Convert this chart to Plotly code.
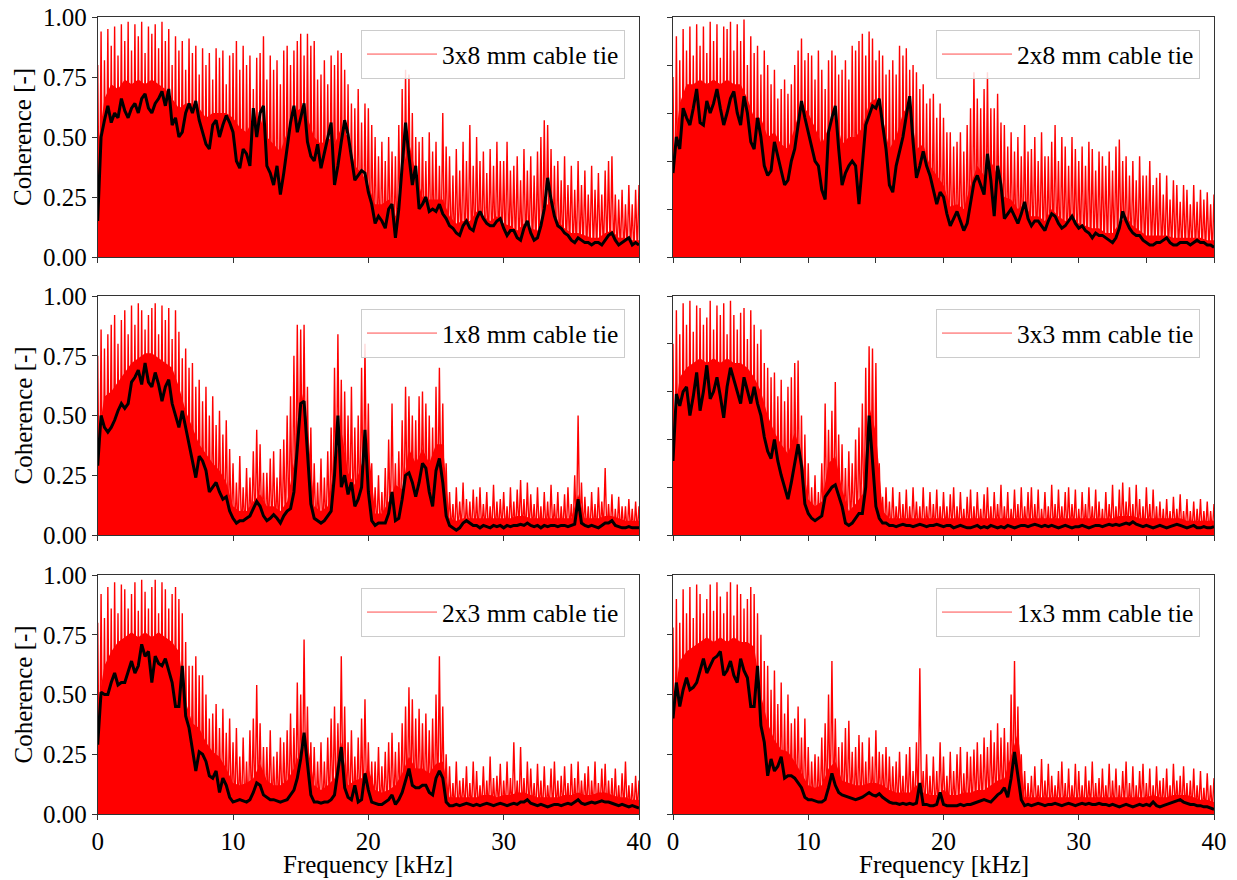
# Coherence of the six cable tie set-ups, raw (red) and smoothed (black)

import numpy as np
import plotly.graph_objects as go

#----------------------------------------------------------
# Data
# frequency grid in kHz, 0.25 kHz step; red spikes alternate hi / lo
# core = top of the solid red band, read every 0.5 kHz
#----------------------------------------------------------

step = 0.25
freq = np.arange(0, 40 + step / 2, step)
core_freq = np.arange(0, 40.25, 0.5)

labels = ["3x8 mm cable tie", "2x8 mm cable tie", "1x8 mm cable tie",
          "3x3 mm cable tie", "2x3 mm cable tie", "1x3 mm cable tie"]

# ---- 3x8 ----
black_3x8 = [
    0.15, 0.50, 0.57, 0.63, 0.56, 0.60, 0.58, 0.66,
    0.61, 0.58, 0.62, 0.64, 0.60, 0.66, 0.68, 0.62,
    0.60, 0.64, 0.66, 0.69, 0.63, 0.70, 0.55, 0.58,
    0.50, 0.52, 0.60, 0.64, 0.60, 0.65, 0.57, 0.52,
    0.47, 0.45, 0.55, 0.57, 0.50, 0.55, 0.59, 0.56,
    0.52, 0.40, 0.37, 0.45, 0.43, 0.38, 0.62, 0.50,
    0.60, 0.63, 0.38, 0.35, 0.30, 0.38, 0.26, 0.35,
    0.45, 0.56, 0.63, 0.52, 0.58, 0.64, 0.48, 0.42,
    0.40, 0.47, 0.37, 0.43, 0.50, 0.56, 0.30, 0.38,
    0.48, 0.57, 0.51, 0.42, 0.32, 0.34, 0.36, 0.35,
    0.27, 0.22, 0.14, 0.17, 0.15, 0.12, 0.20, 0.22,
    0.08, 0.20, 0.38, 0.56, 0.42, 0.30, 0.38, 0.20,
    0.22, 0.25, 0.19, 0.20, 0.19, 0.22, 0.18, 0.16,
    0.13, 0.12, 0.10, 0.09, 0.13, 0.15, 0.12, 0.11,
    0.16, 0.19, 0.16, 0.14, 0.13, 0.13, 0.15, 0.16,
    0.12, 0.09, 0.11, 0.11, 0.08, 0.07, 0.12, 0.15,
    0.10, 0.07, 0.08, 0.13, 0.20, 0.33, 0.24, 0.17,
    0.13, 0.12, 0.10, 0.09, 0.07, 0.06, 0.08, 0.07,
    0.06, 0.06, 0.05, 0.06, 0.06, 0.05, 0.07, 0.09,
    0.10, 0.07, 0.05, 0.06, 0.07, 0.08, 0.05, 0.06,
    0.05]
hi_3x8 = [
    0.80, 0.94, 0.82, 0.95, 0.88, 0.96, 0.84, 0.97,
    0.90, 0.98, 0.86, 0.97, 0.92, 0.98, 0.85, 0.96,
    0.93, 0.97, 0.87, 0.98, 0.90, 0.95, 0.80, 0.92,
    0.86, 0.90, 0.78, 0.91, 0.85, 0.88, 0.76, 0.87,
    0.80, 0.85, 0.74, 0.87, 0.83, 0.86, 0.72, 0.84,
    0.85, 0.90, 0.78, 0.88, 0.80, 0.84, 0.70, 0.83,
    0.85, 0.92, 0.74, 0.84, 0.78, 0.82, 0.72, 0.86,
    0.88, 0.80, 0.86, 0.90, 0.93, 0.84, 0.93, 0.88,
    0.90, 0.74, 0.76, 0.82, 0.72, 0.84, 0.80, 0.86,
    0.85, 0.78, 0.72, 0.64, 0.62, 0.70, 0.56, 0.64,
    0.62, 0.55, 0.50, 0.42, 0.48, 0.40, 0.50, 0.44,
    0.42, 0.55, 0.70, 0.78, 0.76, 0.60, 0.50, 0.48,
    0.50, 0.40, 0.52, 0.44, 0.48, 0.38, 0.60, 0.46,
    0.42, 0.34, 0.45, 0.36, 0.48, 0.40, 0.55, 0.38,
    0.50, 0.40, 0.44, 0.35, 0.45, 0.38, 0.48, 0.40,
    0.40, 0.48, 0.36, 0.38, 0.42, 0.32, 0.45, 0.36,
    0.42, 0.34, 0.44, 0.50, 0.57, 0.55, 0.45, 0.38,
    0.40, 0.32, 0.42, 0.30, 0.38, 0.28, 0.40, 0.30,
    0.36, 0.26, 0.38, 0.28, 0.35, 0.26, 0.36, 0.40,
    0.42, 0.26, 0.24, 0.28, 0.22, 0.30, 0.22, 0.28,
    0.30]
lo_3x8 = [
    0.05, 0.02, 0.10, 0.00, 0.08, 0.03, 0.12, 0.01,
    0.06, 0.00, 0.09, 0.04, 0.11, 0.02, 0.07, 0.00,
    0.10, 0.03, 0.08, 0.01, 0.12, 0.04, 0.06, 0.00,
    0.09, 0.02, 0.11, 0.05, 0.03, 0.08, 0.00, 0.06,
    0.04, 0.10, 0.01, 0.07, 0.03, 0.09, 0.00, 0.05,
    0.08, 0.02, 0.06, 0.00, 0.09, 0.03, 0.07, 0.01,
    0.05, 0.08, 0.00, 0.04, 0.02, 0.06, 0.00, 0.03,
    0.07, 0.01, 0.09, 0.04, 0.06, 0.00, 0.08, 0.02,
    0.03, 0.06, 0.00, 0.05, 0.02, 0.07, 0.00, 0.04,
    0.06, 0.02, 0.04, 0.00, 0.03, 0.05, 0.01, 0.02,
    0.01, 0.03, 0.00, 0.02, 0.01, 0.00, 0.02, 0.01,
    0.00, 0.02, 0.04, 0.06, 0.03, 0.01, 0.02, 0.00,
    0.02, 0.01, 0.00, 0.02, 0.01, 0.03, 0.00, 0.01,
    0.01, 0.00, 0.02, 0.01, 0.00, 0.02, 0.01, 0.00,
    0.02, 0.01, 0.00, 0.01, 0.02, 0.00, 0.01, 0.02,
    0.00, 0.01, 0.02, 0.00, 0.01, 0.00, 0.02, 0.01,
    0.00, 0.01, 0.00, 0.02, 0.03, 0.02, 0.01, 0.00,
    0.01, 0.00, 0.01, 0.02, 0.00, 0.01, 0.00, 0.01,
    0.00, 0.01, 0.00, 0.01, 0.02, 0.00, 0.01, 0.00,
    0.01, 0.00, 0.01, 0.00, 0.01, 0.02, 0.00, 0.01]
core_3x8 = [
    0.45, 0.66, 0.72, 0.70, 0.74, 0.72, 0.74, 0.72, 0.74, 0.72,
    0.70, 0.66, 0.62, 0.64, 0.64, 0.62, 0.58, 0.60, 0.60, 0.60,
    0.58, 0.54, 0.52, 0.58, 0.58, 0.50, 0.47, 0.44, 0.52, 0.60,
    0.62, 0.58, 0.50, 0.47, 0.50, 0.47, 0.54, 0.50, 0.38, 0.35,
    0.30, 0.22, 0.22, 0.24, 0.17, 0.35, 0.48, 0.35, 0.25, 0.24,
    0.24, 0.24, 0.17, 0.14, 0.15, 0.15, 0.19, 0.17, 0.15, 0.17,
    0.14, 0.13, 0.11, 0.14, 0.12, 0.11, 0.20, 0.24, 0.15, 0.12,
    0.10, 0.10, 0.09, 0.08, 0.08, 0.10, 0.11, 0.08, 0.08, 0.07,
    0.07]

# ---- 2x8 ----
black_2x8 = [
    0.35, 0.50, 0.45, 0.62, 0.58, 0.55, 0.62, 0.70,
    0.56, 0.55, 0.65, 0.60, 0.64, 0.70, 0.62, 0.55,
    0.60, 0.66, 0.69, 0.60, 0.55, 0.67, 0.60, 0.48,
    0.45, 0.58, 0.50, 0.38, 0.34, 0.36, 0.48, 0.42,
    0.37, 0.30, 0.32, 0.40, 0.45, 0.55, 0.65, 0.58,
    0.52, 0.47, 0.40, 0.38, 0.28, 0.24, 0.52, 0.58,
    0.63, 0.45, 0.30, 0.35, 0.38, 0.40, 0.38, 0.22,
    0.38, 0.55, 0.59, 0.63, 0.62, 0.66, 0.55, 0.45,
    0.30, 0.27, 0.38, 0.44, 0.50, 0.59, 0.67, 0.48,
    0.33, 0.38, 0.44, 0.38, 0.34, 0.28, 0.22, 0.27,
    0.25, 0.18, 0.13, 0.16, 0.19, 0.15, 0.11, 0.14,
    0.22, 0.31, 0.34, 0.30, 0.26, 0.43, 0.32, 0.17,
    0.38, 0.30, 0.16, 0.18, 0.20, 0.17, 0.14, 0.18,
    0.23, 0.16, 0.13, 0.15, 0.15, 0.13, 0.11, 0.15,
    0.18, 0.17, 0.14, 0.12, 0.13, 0.15, 0.17, 0.14,
    0.12, 0.13, 0.11, 0.10, 0.08, 0.10, 0.09, 0.09,
    0.08, 0.07, 0.06, 0.08, 0.12, 0.19, 0.15, 0.12,
    0.10, 0.09, 0.09, 0.07, 0.06, 0.05, 0.05, 0.06,
    0.06, 0.07, 0.08, 0.06, 0.05, 0.05, 0.06, 0.06,
    0.06, 0.05, 0.06, 0.07, 0.06, 0.06, 0.05, 0.05,
    0.04]
hi_2x8 = [
    0.75, 0.92, 0.82, 0.95, 0.86, 0.96, 0.84, 0.97,
    0.88, 0.96, 0.85, 0.98, 0.90, 0.97, 0.83, 0.96,
    0.95, 0.98, 0.86, 0.97, 0.90, 0.99, 0.80, 0.92,
    0.85, 0.88, 0.76, 0.86, 0.80, 0.72, 0.78, 0.66,
    0.70, 0.74, 0.68, 0.72, 0.80, 0.86, 0.91, 0.82,
    0.85, 0.84, 0.74, 0.86, 0.78, 0.70, 0.82, 0.86,
    0.84, 0.76, 0.78, 0.82, 0.74, 0.88, 0.86, 0.90,
    0.93, 0.84, 0.94, 0.91, 0.82, 0.86, 0.84, 0.76,
    0.78, 0.82, 0.76, 0.88, 0.84, 0.87, 0.78, 0.80,
    0.77, 0.70, 0.72, 0.64, 0.66, 0.68, 0.58, 0.64,
    0.58, 0.52, 0.52, 0.46, 0.48, 0.52, 0.44, 0.55,
    0.62, 0.77, 0.66, 0.62, 0.70, 0.77, 0.62, 0.62,
    0.68, 0.56, 0.55, 0.46, 0.52, 0.44, 0.50, 0.42,
    0.55, 0.44, 0.45, 0.50, 0.40, 0.52, 0.42, 0.42,
    0.48, 0.55, 0.40, 0.50, 0.46, 0.38, 0.50, 0.45,
    0.40, 0.46, 0.38, 0.48, 0.45, 0.36, 0.44, 0.42,
    0.38, 0.44, 0.36, 0.46, 0.49, 0.40, 0.42, 0.34,
    0.40, 0.32, 0.42, 0.34, 0.34, 0.40, 0.30, 0.33,
    0.35, 0.26, 0.34, 0.24, 0.32, 0.30, 0.23, 0.30,
    0.28, 0.22, 0.30, 0.23, 0.28, 0.24, 0.27, 0.22,
    0.26]
lo_2x8 = [
    0.03, 0.08, 0.00, 0.11, 0.04, 0.07, 0.01, 0.10,
    0.02, 0.09, 0.05, 0.00, 0.12, 0.03, 0.08, 0.01,
    0.07, 0.00, 0.10, 0.04, 0.09, 0.02, 0.11, 0.03,
    0.06, 0.01, 0.08, 0.03, 0.00, 0.07, 0.02, 0.05,
    0.00, 0.06, 0.03, 0.09, 0.01, 0.08, 0.04, 0.10,
    0.02, 0.07, 0.00, 0.05, 0.03, 0.00, 0.06, 0.09,
    0.04, 0.01, 0.05, 0.00, 0.03, 0.06, 0.02, 0.00,
    0.05, 0.08, 0.03, 0.10, 0.06, 0.02, 0.07, 0.01,
    0.00, 0.03, 0.06, 0.02, 0.07, 0.04, 0.08, 0.03,
    0.01, 0.04, 0.06, 0.02, 0.00, 0.03, 0.01, 0.02,
    0.00, 0.02, 0.01, 0.00, 0.02, 0.01, 0.00, 0.01,
    0.02, 0.04, 0.05, 0.03, 0.02, 0.04, 0.01, 0.00,
    0.03, 0.01, 0.00, 0.02, 0.01, 0.00, 0.01, 0.02,
    0.00, 0.01, 0.02, 0.00, 0.01, 0.02, 0.00, 0.01,
    0.01, 0.02, 0.00, 0.01, 0.00, 0.02, 0.01, 0.00,
    0.02, 0.00, 0.01, 0.00, 0.01, 0.02, 0.00, 0.01,
    0.00, 0.01, 0.00, 0.01, 0.02, 0.01, 0.00, 0.01,
    0.01, 0.00, 0.02, 0.00, 0.01, 0.00, 0.01, 0.00,
    0.00, 0.01, 0.00, 0.02, 0.00, 0.01, 0.00, 0.01,
    0.01, 0.00, 0.01, 0.00, 0.01, 0.00, 0.01, 0.00]
core_2x8 = [
    0.40, 0.64, 0.72, 0.72, 0.74, 0.72, 0.74, 0.72, 0.74, 0.72,
    0.72, 0.66, 0.58, 0.58, 0.50, 0.52, 0.47, 0.45, 0.54, 0.64,
    0.60, 0.54, 0.47, 0.54, 0.60, 0.47, 0.50, 0.50, 0.54, 0.64,
    0.66, 0.58, 0.45, 0.50, 0.60, 0.64, 0.45, 0.47, 0.38, 0.34,
    0.30, 0.21, 0.22, 0.20, 0.30, 0.38, 0.34, 0.40, 0.34, 0.25,
    0.24, 0.20, 0.22, 0.17, 0.17, 0.15, 0.20, 0.17, 0.15, 0.17,
    0.14, 0.13, 0.12, 0.12, 0.10, 0.10, 0.14, 0.17, 0.13, 0.11,
    0.09, 0.09, 0.09, 0.09, 0.08, 0.08, 0.08, 0.08, 0.08, 0.07,
    0.07]

# ---- 1x8 ----
black_1x8 = [
    0.29, 0.50, 0.45, 0.43, 0.45, 0.48, 0.52, 0.55,
    0.53, 0.55, 0.64, 0.66, 0.69, 0.63, 0.72, 0.64,
    0.62, 0.68, 0.63, 0.56, 0.62, 0.65, 0.55, 0.50,
    0.45, 0.52, 0.45, 0.38, 0.30, 0.24, 0.33, 0.31,
    0.27, 0.18, 0.20, 0.22, 0.18, 0.15, 0.16, 0.10,
    0.07, 0.05, 0.06, 0.06, 0.07, 0.08, 0.11, 0.14,
    0.12, 0.08, 0.06, 0.07, 0.085, 0.07, 0.05, 0.08,
    0.10, 0.11, 0.18, 0.35, 0.55, 0.56, 0.35, 0.13,
    0.07, 0.06, 0.05, 0.06, 0.08, 0.10, 0.25, 0.50,
    0.20, 0.25, 0.17, 0.22, 0.12, 0.15, 0.20, 0.44,
    0.18, 0.06, 0.04, 0.05, 0.05, 0.05, 0.09, 0.18,
    0.06, 0.07, 0.15, 0.25, 0.26, 0.22, 0.16, 0.22,
    0.30, 0.28, 0.18, 0.12, 0.27, 0.32, 0.22, 0.08,
    0.04, 0.03, 0.02, 0.03, 0.05, 0.06, 0.05, 0.04,
    0.04, 0.03, 0.04, 0.035, 0.03, 0.04, 0.035, 0.04,
    0.03, 0.04, 0.035, 0.04, 0.04, 0.045, 0.04, 0.05,
    0.04, 0.035, 0.04, 0.03, 0.04, 0.035, 0.04, 0.04,
    0.035, 0.04, 0.04, 0.035, 0.04, 0.045, 0.15, 0.05,
    0.04, 0.035, 0.04, 0.035, 0.03, 0.04, 0.05, 0.05,
    0.06, 0.04, 0.035, 0.03, 0.03, 0.035, 0.03, 0.03,
    0.03]
hi_1x8 = [
    0.75, 0.86, 0.78, 0.84, 0.88, 0.92, 0.80, 0.90,
    0.94, 0.84, 0.96, 0.88, 0.97, 0.94, 0.86, 0.92,
    0.95, 0.97, 0.84, 0.96, 0.90, 0.95, 0.82, 0.94,
    0.85, 0.74, 0.78, 0.70, 0.72, 0.62, 0.65, 0.56,
    0.62, 0.50, 0.58, 0.46, 0.52, 0.42, 0.48, 0.36,
    0.30, 0.22, 0.33, 0.20, 0.28, 0.24, 0.35, 0.44,
    0.38, 0.26, 0.26, 0.32, 0.35, 0.24, 0.36, 0.40,
    0.50, 0.58, 0.75, 0.88, 0.86, 0.88, 0.62, 0.45,
    0.30, 0.22, 0.32, 0.24, 0.35, 0.45, 0.70, 0.84,
    0.65, 0.60, 0.50, 0.62, 0.45, 0.50, 0.70, 0.80,
    0.55, 0.30, 0.20, 0.25, 0.18, 0.28, 0.40, 0.55,
    0.30, 0.35, 0.48, 0.62, 0.58, 0.50, 0.48, 0.58,
    0.60, 0.55, 0.50, 0.45, 0.62, 0.70, 0.55, 0.30,
    0.18, 0.13, 0.20, 0.14, 0.22, 0.15, 0.14, 0.19,
    0.16, 0.20, 0.13, 0.18, 0.12, 0.21, 0.14, 0.15,
    0.18, 0.12, 0.20, 0.14, 0.19, 0.23, 0.15, 0.22,
    0.17, 0.13, 0.20, 0.12, 0.18, 0.14, 0.21, 0.13,
    0.18, 0.12, 0.17, 0.20, 0.13, 0.25, 0.50, 0.22,
    0.16, 0.12, 0.18, 0.13, 0.20, 0.14, 0.28, 0.13,
    0.17, 0.11, 0.16, 0.12, 0.12, 0.15, 0.11, 0.14,
    0.12]
lo_1x8 = [
    0.02, 0.08, 0.00, 0.10, 0.04, 0.07, 0.01, 0.09,
    0.03, 0.11, 0.05, 0.00, 0.08, 0.02, 0.10, 0.04,
    0.07, 0.01, 0.09, 0.03, 0.06, 0.00, 0.08, 0.02,
    0.05, 0.00, 0.04, 0.02, 0.00, 0.03, 0.01, 0.00,
    0.02, 0.00, 0.01, 0.03, 0.00, 0.01, 0.00, 0.01,
    0.00, 0.01, 0.00, 0.01, 0.00, 0.02, 0.01, 0.02,
    0.01, 0.00, 0.01, 0.00, 0.01, 0.00, 0.00, 0.01,
    0.02, 0.03, 0.06, 0.15, 0.20, 0.12, 0.04, 0.01,
    0.00, 0.01, 0.00, 0.01, 0.02, 0.03, 0.08, 0.15,
    0.06, 0.08, 0.05, 0.06, 0.03, 0.04, 0.06, 0.10,
    0.03, 0.00, 0.01, 0.00, 0.01, 0.00, 0.02, 0.04,
    0.01, 0.02, 0.04, 0.07, 0.08, 0.05, 0.04, 0.06,
    0.08, 0.06, 0.04, 0.03, 0.07, 0.09, 0.03, 0.01,
    0.01, 0.00, 0.01, 0.02, 0.00, 0.01, 0.00, 0.01,
    0.00, 0.01, 0.02, 0.00, 0.01, 0.00, 0.01, 0.02,
    0.01, 0.00, 0.01, 0.00, 0.02, 0.01, 0.00, 0.01,
    0.02, 0.00, 0.01, 0.00, 0.01, 0.00, 0.02, 0.01,
    0.00, 0.01, 0.00, 0.02, 0.01, 0.00, 0.03, 0.01,
    0.01, 0.00, 0.01, 0.00, 0.01, 0.02, 0.00, 0.01,
    0.00, 0.01, 0.00, 0.01, 0.00, 0.01, 0.00, 0.01]
core_1x8 = [
    0.40, 0.58, 0.60, 0.64, 0.68, 0.72, 0.74, 0.76, 0.76, 0.74,
    0.72, 0.70, 0.62, 0.52, 0.45, 0.38, 0.34, 0.30, 0.27, 0.22,
    0.12, 0.10, 0.10, 0.14, 0.17, 0.12, 0.12, 0.10, 0.14, 0.30,
    0.62, 0.47, 0.12, 0.10, 0.12, 0.30, 0.44, 0.26, 0.21, 0.30,
    0.38, 0.09, 0.09, 0.14, 0.21, 0.19, 0.36, 0.30, 0.36, 0.30,
    0.38, 0.38, 0.07, 0.06, 0.07, 0.07, 0.07, 0.07, 0.07, 0.07,
    0.07, 0.07, 0.08, 0.08, 0.07, 0.07, 0.07, 0.07, 0.07, 0.07,
    0.07, 0.17, 0.07, 0.07, 0.07, 0.08, 0.08, 0.07, 0.06, 0.06,
    0.06]

# ---- 3x3 ----
black_3x3 = [
    0.31, 0.59, 0.54, 0.60, 0.62, 0.50, 0.58, 0.68,
    0.52, 0.60, 0.71, 0.57, 0.60, 0.66, 0.58, 0.49,
    0.62, 0.70, 0.65, 0.60, 0.55, 0.66, 0.60, 0.55,
    0.62, 0.55, 0.50, 0.41, 0.35, 0.32, 0.40, 0.31,
    0.25, 0.20, 0.15, 0.22, 0.30, 0.38, 0.29, 0.13,
    0.09, 0.07, 0.06, 0.07, 0.08, 0.16, 0.18, 0.20,
    0.21, 0.16, 0.12, 0.05, 0.04, 0.05, 0.07, 0.09,
    0.09, 0.20, 0.50, 0.32, 0.12, 0.07, 0.05, 0.05,
    0.04, 0.04, 0.035, 0.04, 0.045, 0.04, 0.04, 0.035,
    0.04, 0.045, 0.04, 0.035, 0.04, 0.04, 0.045, 0.04,
    0.035, 0.04, 0.04, 0.03, 0.035, 0.04, 0.035, 0.03,
    0.03, 0.035, 0.04, 0.03, 0.035, 0.03, 0.04, 0.035,
    0.03, 0.035, 0.03, 0.04, 0.035, 0.03, 0.035, 0.04,
    0.04, 0.035, 0.04, 0.045, 0.04, 0.035, 0.04, 0.035,
    0.04, 0.035, 0.03, 0.035, 0.04, 0.035, 0.03, 0.035,
    0.035, 0.04, 0.035, 0.03, 0.035, 0.04, 0.04, 0.035,
    0.04, 0.045, 0.04, 0.045, 0.04, 0.045, 0.05, 0.045,
    0.055, 0.045, 0.04, 0.035, 0.04, 0.035, 0.03, 0.035,
    0.04, 0.035, 0.03, 0.035, 0.04, 0.045, 0.04, 0.035,
    0.03, 0.035, 0.04, 0.03, 0.03, 0.035, 0.03, 0.03,
    0.035]
hi_3x3 = [
    0.80, 0.94, 0.84, 0.97, 0.88, 0.98, 0.85, 0.96,
    0.95, 0.88, 0.91, 0.98, 0.86, 0.96, 0.92, 0.97,
    0.84, 0.98, 0.92, 0.86, 0.93, 0.95, 0.82, 0.94,
    0.88, 0.80, 0.86, 0.72, 0.70, 0.66, 0.68, 0.58,
    0.65, 0.56, 0.62, 0.66, 0.72, 0.73, 0.50, 0.42,
    0.30, 0.20, 0.25, 0.18, 0.30, 0.55, 0.44, 0.52,
    0.64, 0.42, 0.38, 0.28, 0.35, 0.30, 0.40, 0.45,
    0.55, 0.70, 0.79, 0.78, 0.72, 0.30, 0.16, 0.20,
    0.14, 0.20, 0.12, 0.18, 0.13, 0.19, 0.12, 0.20,
    0.14, 0.12, 0.20, 0.12, 0.18, 0.13, 0.19, 0.12,
    0.18, 0.12, 0.17, 0.20, 0.12, 0.18, 0.11, 0.16,
    0.19, 0.12, 0.18, 0.11, 0.17, 0.20, 0.12, 0.18,
    0.13, 0.21, 0.12, 0.18, 0.11, 0.19, 0.13, 0.20,
    0.12, 0.18, 0.20, 0.13, 0.19, 0.11, 0.18, 0.12,
    0.21, 0.13, 0.19, 0.12, 0.18, 0.20, 0.13, 0.19,
    0.11, 0.18, 0.13, 0.20, 0.12, 0.19, 0.14, 0.11,
    0.18, 0.13, 0.21, 0.12, 0.19, 0.22, 0.14, 0.20,
    0.13, 0.21, 0.15, 0.12, 0.20, 0.13, 0.19, 0.12,
    0.14, 0.11, 0.15, 0.10, 0.16, 0.11, 0.17, 0.10,
    0.15, 0.10, 0.14, 0.11, 0.15, 0.10, 0.14, 0.10,
    0.13]
lo_3x3 = [
    0.03, 0.09, 0.01, 0.11, 0.05, 0.00, 0.08, 0.02,
    0.10, 0.04, 0.07, 0.00, 0.12, 0.03, 0.09, 0.01,
    0.06, 0.10, 0.02, 0.08, 0.00, 0.11, 0.04, 0.07,
    0.02, 0.09, 0.03, 0.06, 0.00, 0.04, 0.02, 0.05,
    0.01, 0.03, 0.00, 0.04, 0.06, 0.05, 0.02, 0.01,
    0.00, 0.01, 0.00, 0.01, 0.02, 0.03, 0.04, 0.03,
    0.05, 0.02, 0.01, 0.00, 0.01, 0.00, 0.01, 0.02,
    0.01, 0.04, 0.10, 0.08, 0.03, 0.01, 0.00, 0.01,
    0.00, 0.01, 0.02, 0.00, 0.01, 0.00, 0.01, 0.02,
    0.01, 0.00, 0.01, 0.02, 0.00, 0.01, 0.00, 0.01,
    0.02, 0.00, 0.01, 0.00, 0.01, 0.02, 0.00, 0.01,
    0.00, 0.01, 0.02, 0.01, 0.00, 0.01, 0.00, 0.02,
    0.01, 0.00, 0.01, 0.00, 0.02, 0.01, 0.00, 0.01,
    0.02, 0.01, 0.00, 0.01, 0.00, 0.02, 0.01, 0.00,
    0.01, 0.00, 0.02, 0.01, 0.00, 0.01, 0.02, 0.00,
    0.00, 0.01, 0.00, 0.02, 0.01, 0.00, 0.01, 0.00,
    0.01, 0.02, 0.00, 0.01, 0.00, 0.01, 0.02, 0.01,
    0.00, 0.01, 0.00, 0.01, 0.02, 0.00, 0.01, 0.00,
    0.01, 0.00, 0.01, 0.00, 0.01, 0.02, 0.00, 0.01,
    0.00, 0.01, 0.00, 0.01, 0.00, 0.01, 0.00, 0.01]
core_3x3 = [
    0.45, 0.66, 0.70, 0.72, 0.74, 0.72, 0.74, 0.72, 0.74, 0.72,
    0.72, 0.70, 0.66, 0.60, 0.50, 0.43, 0.38, 0.34, 0.43, 0.34,
    0.15, 0.12, 0.14, 0.30, 0.33, 0.19, 0.10, 0.13, 0.17, 0.54,
    0.43, 0.10, 0.07, 0.07, 0.07, 0.07, 0.07, 0.07, 0.07, 0.07,
    0.07, 0.07, 0.07, 0.07, 0.07, 0.07, 0.07, 0.07, 0.07, 0.07,
    0.07, 0.07, 0.07, 0.07, 0.07, 0.07, 0.07, 0.07, 0.07, 0.07,
    0.07, 0.07, 0.07, 0.07, 0.07, 0.07, 0.08, 0.08, 0.08, 0.07,
    0.07, 0.07, 0.07, 0.07, 0.07, 0.07, 0.06, 0.06, 0.06, 0.06,
    0.06]

# ---- 2x3 ----
black_2x3 = [
    0.29, 0.51, 0.50, 0.50, 0.55, 0.59, 0.54, 0.55,
    0.55, 0.60, 0.64, 0.59, 0.62, 0.71, 0.66, 0.68,
    0.55, 0.66, 0.63, 0.62, 0.65, 0.60, 0.55, 0.45,
    0.45, 0.62, 0.41, 0.36, 0.26, 0.18, 0.26, 0.25,
    0.22, 0.16, 0.15, 0.18, 0.09, 0.15, 0.12, 0.07,
    0.05, 0.055, 0.06, 0.055, 0.05, 0.06, 0.09, 0.13,
    0.12, 0.08, 0.07, 0.06, 0.06, 0.055, 0.05, 0.055,
    0.06, 0.08, 0.10, 0.15, 0.23, 0.34, 0.20, 0.08,
    0.05, 0.05, 0.045, 0.05, 0.05, 0.06, 0.08, 0.18,
    0.28, 0.11, 0.07, 0.06, 0.12, 0.05, 0.06, 0.17,
    0.10, 0.05, 0.045, 0.04, 0.04, 0.05, 0.06, 0.08,
    0.04, 0.06, 0.09, 0.14, 0.19, 0.12, 0.11, 0.11,
    0.12, 0.12, 0.09, 0.08, 0.15, 0.18, 0.15, 0.05,
    0.035, 0.035, 0.04, 0.035, 0.04, 0.045, 0.04, 0.035,
    0.04, 0.035, 0.04, 0.045, 0.04, 0.035, 0.04, 0.045,
    0.04, 0.035, 0.04, 0.045, 0.04, 0.05, 0.05, 0.06,
    0.045, 0.04, 0.035, 0.04, 0.035, 0.03, 0.035, 0.04,
    0.04, 0.035, 0.04, 0.045, 0.04, 0.05, 0.06, 0.045,
    0.04, 0.045, 0.05, 0.045, 0.05, 0.055, 0.05, 0.05,
    0.045, 0.04, 0.035, 0.04, 0.035, 0.03, 0.035, 0.03,
    0.025]
hi_2x3 = [
    0.80, 0.92, 0.82, 0.95, 0.86, 0.97, 0.84, 0.96,
    0.94, 0.86, 0.92, 0.97, 0.85, 0.98, 0.93, 0.86,
    0.95, 0.98, 0.84, 0.97, 0.94, 0.86, 0.92, 0.95,
    0.90, 0.84, 0.72, 0.62, 0.62, 0.66, 0.58, 0.58,
    0.50, 0.40, 0.42, 0.46, 0.36, 0.44, 0.34, 0.40,
    0.30, 0.36, 0.24, 0.32, 0.22, 0.35, 0.40, 0.54,
    0.38, 0.28, 0.28, 0.35, 0.24, 0.26, 0.32, 0.30,
    0.35, 0.42, 0.36, 0.55, 0.50, 0.73, 0.45, 0.30,
    0.28, 0.22, 0.30, 0.22, 0.32, 0.40, 0.45, 0.38,
    0.66, 0.45, 0.30, 0.35, 0.24, 0.32, 0.40, 0.48,
    0.30, 0.22, 0.22, 0.28, 0.20, 0.26, 0.30, 0.34,
    0.26, 0.30, 0.38, 0.45, 0.53, 0.48, 0.40, 0.44,
    0.38, 0.42, 0.35, 0.40, 0.50, 0.66, 0.45, 0.25,
    0.20, 0.13, 0.22, 0.14, 0.15, 0.20, 0.13, 0.22,
    0.18, 0.12, 0.20, 0.14, 0.24, 0.15, 0.16, 0.21,
    0.14, 0.22, 0.15, 0.30, 0.14, 0.28, 0.15, 0.22,
    0.19, 0.13, 0.21, 0.14, 0.20, 0.12, 0.19, 0.22,
    0.14, 0.16, 0.20, 0.13, 0.21, 0.15, 0.22, 0.14,
    0.17, 0.20, 0.14, 0.22, 0.13, 0.19, 0.21, 0.14,
    0.15, 0.19, 0.12, 0.17, 0.22, 0.12, 0.13, 0.16,
    0.14]
lo_2x3 = [
    0.04, 0.10, 0.01, 0.08, 0.00, 0.12, 0.03, 0.09,
    0.05, 0.00, 0.11, 0.02, 0.08, 0.04, 0.10, 0.01,
    0.07, 0.03, 0.09, 0.00, 0.06, 0.02, 0.08, 0.04,
    0.05, 0.08, 0.02, 0.03, 0.00, 0.02, 0.01, 0.00,
    0.01, 0.00, 0.02, 0.00, 0.01, 0.00, 0.01, 0.00,
    0.00, 0.01, 0.00, 0.01, 0.00, 0.01, 0.02, 0.03,
    0.02, 0.01, 0.00, 0.01, 0.00, 0.01, 0.00, 0.01,
    0.01, 0.02, 0.02, 0.04, 0.06, 0.08, 0.03, 0.01,
    0.00, 0.01, 0.00, 0.01, 0.01, 0.02, 0.02, 0.04,
    0.05, 0.02, 0.01, 0.01, 0.02, 0.00, 0.01, 0.03,
    0.01, 0.00, 0.01, 0.00, 0.01, 0.00, 0.01, 0.02,
    0.00, 0.01, 0.02, 0.03, 0.04, 0.03, 0.02, 0.02,
    0.02, 0.03, 0.02, 0.01, 0.03, 0.04, 0.02, 0.01,
    0.00, 0.01, 0.00, 0.02, 0.01, 0.00, 0.01, 0.00,
    0.01, 0.02, 0.00, 0.01, 0.00, 0.01, 0.02, 0.00,
    0.01, 0.00, 0.01, 0.02, 0.00, 0.01, 0.00, 0.01,
    0.02, 0.00, 0.01, 0.00, 0.01, 0.02, 0.00, 0.01,
    0.00, 0.01, 0.02, 0.00, 0.01, 0.00, 0.01, 0.02,
    0.01, 0.00, 0.01, 0.00, 0.02, 0.01, 0.00, 0.01,
    0.00, 0.01, 0.00, 0.01, 0.00, 0.01, 0.00, 0.01]
core_2x3 = [
    0.45, 0.62, 0.68, 0.72, 0.74, 0.76, 0.74, 0.76, 0.74, 0.76,
    0.74, 0.72, 0.68, 0.47, 0.38, 0.36, 0.30, 0.26, 0.24, 0.19,
    0.13, 0.12, 0.13, 0.15, 0.21, 0.14, 0.12, 0.12, 0.14, 0.19,
    0.27, 0.30, 0.12, 0.10, 0.12, 0.15, 0.30, 0.12, 0.14, 0.15,
    0.19, 0.10, 0.09, 0.10, 0.12, 0.17, 0.24, 0.19, 0.19, 0.17,
    0.21, 0.22, 0.07, 0.07, 0.07, 0.07, 0.07, 0.08, 0.08, 0.07,
    0.08, 0.08, 0.09, 0.09, 0.08, 0.07, 0.07, 0.07, 0.07, 0.08,
    0.08, 0.09, 0.08, 0.08, 0.09, 0.09, 0.08, 0.07, 0.07, 0.06,
    0.06]

# ---- 1x3 ----
black_1x3 = [
    0.40, 0.55, 0.45, 0.52, 0.57, 0.52, 0.53, 0.55,
    0.60, 0.65, 0.59, 0.62, 0.65, 0.66, 0.68, 0.58,
    0.60, 0.64, 0.58, 0.55, 0.65, 0.60, 0.57, 0.45,
    0.45, 0.62, 0.37, 0.30, 0.16, 0.23, 0.18, 0.20,
    0.24, 0.15, 0.16, 0.16, 0.15, 0.13, 0.11, 0.07,
    0.06, 0.06, 0.055, 0.05, 0.05, 0.06, 0.11, 0.17,
    0.12, 0.09, 0.08, 0.075, 0.07, 0.065, 0.06, 0.065,
    0.07, 0.08, 0.09, 0.08, 0.075, 0.085, 0.07, 0.06,
    0.05, 0.045, 0.045, 0.04, 0.045, 0.04, 0.045, 0.04,
    0.045, 0.13, 0.04, 0.04, 0.035, 0.035, 0.04, 0.09,
    0.04, 0.035, 0.035, 0.035, 0.035, 0.04, 0.035, 0.04,
    0.04, 0.045, 0.05, 0.055, 0.06, 0.055, 0.05, 0.065,
    0.08, 0.09, 0.11, 0.07, 0.15, 0.26, 0.15, 0.06,
    0.035, 0.04, 0.035, 0.04, 0.045, 0.04, 0.035, 0.04,
    0.04, 0.045, 0.04, 0.035, 0.04, 0.045, 0.04, 0.035,
    0.04, 0.045, 0.04, 0.045, 0.04, 0.04, 0.045, 0.04,
    0.04, 0.035, 0.04, 0.035, 0.03, 0.035, 0.04, 0.035,
    0.03, 0.035, 0.04, 0.035, 0.04, 0.035, 0.05, 0.035,
    0.03, 0.035, 0.04, 0.045, 0.05, 0.055, 0.06, 0.05,
    0.045, 0.04, 0.04, 0.035, 0.035, 0.03, 0.03, 0.025,
    0.02]
hi_1x3 = [
    0.78, 0.90, 0.80, 0.94, 0.84, 0.95, 0.82, 0.96,
    0.92, 0.84, 0.90, 0.96, 0.85, 0.97, 0.91, 0.84,
    0.93, 0.97, 0.83, 0.96, 0.92, 0.86, 0.90, 0.95,
    0.92, 0.84, 0.75, 0.64, 0.62, 0.52, 0.60, 0.46,
    0.55, 0.42, 0.50, 0.38, 0.40, 0.45, 0.32, 0.40,
    0.28, 0.22, 0.25, 0.24, 0.32, 0.38, 0.50, 0.64,
    0.40, 0.28, 0.30, 0.36, 0.39, 0.26, 0.28, 0.33,
    0.30, 0.22, 0.32, 0.24, 0.35, 0.26, 0.25, 0.28,
    0.24, 0.20, 0.22, 0.26, 0.16, 0.25, 0.28, 0.18,
    0.30, 0.61, 0.18, 0.25, 0.16, 0.24, 0.18, 0.30,
    0.24, 0.16, 0.26, 0.18, 0.25, 0.28, 0.17, 0.26,
    0.24, 0.27, 0.30, 0.25, 0.32, 0.28, 0.35, 0.30,
    0.38, 0.32, 0.36, 0.30, 0.50, 0.64, 0.45, 0.25,
    0.18, 0.13, 0.16, 0.20, 0.12, 0.23, 0.14, 0.21,
    0.16, 0.12, 0.18, 0.22, 0.13, 0.19, 0.12, 0.21,
    0.18, 0.12, 0.20, 0.14, 0.22, 0.13, 0.15, 0.19,
    0.12, 0.21, 0.14, 0.19, 0.12, 0.18, 0.22, 0.13,
    0.20, 0.12, 0.18, 0.21, 0.13, 0.19, 0.12, 0.20,
    0.14, 0.15, 0.19, 0.12, 0.21, 0.14, 0.16, 0.20,
    0.13, 0.14, 0.19, 0.12, 0.18, 0.11, 0.17, 0.12,
    0.15]
lo_1x3 = [
    0.05, 0.01, 0.09, 0.03, 0.11, 0.00, 0.07, 0.02,
    0.10, 0.04, 0.00, 0.08, 0.02, 0.12, 0.05, 0.01,
    0.09, 0.03, 0.07, 0.00, 0.10, 0.04, 0.06, 0.02,
    0.08, 0.05, 0.01, 0.03, 0.00, 0.02, 0.01, 0.00,
    0.02, 0.00, 0.01, 0.00, 0.01, 0.02, 0.00, 0.01,
    0.00, 0.01, 0.00, 0.01, 0.00, 0.01, 0.02, 0.03,
    0.02, 0.01, 0.00, 0.01, 0.02, 0.00, 0.01, 0.00,
    0.01, 0.00, 0.02, 0.01, 0.00, 0.01, 0.02, 0.00,
    0.01, 0.00, 0.01, 0.02, 0.00, 0.01, 0.00, 0.01,
    0.02, 0.04, 0.01, 0.00, 0.01, 0.00, 0.01, 0.02,
    0.00, 0.01, 0.00, 0.01, 0.02, 0.00, 0.01, 0.00,
    0.01, 0.02, 0.01, 0.02, 0.03, 0.02, 0.03, 0.02,
    0.03, 0.04, 0.03, 0.02, 0.06, 0.08, 0.03, 0.01,
    0.00, 0.01, 0.00, 0.02, 0.01, 0.00, 0.01, 0.00,
    0.01, 0.02, 0.00, 0.01, 0.00, 0.01, 0.02, 0.00,
    0.01, 0.00, 0.01, 0.02, 0.00, 0.01, 0.00, 0.01,
    0.02, 0.00, 0.01, 0.00, 0.01, 0.02, 0.00, 0.01,
    0.00, 0.01, 0.02, 0.00, 0.01, 0.00, 0.01, 0.02,
    0.01, 0.00, 0.01, 0.00, 0.02, 0.01, 0.00, 0.01,
    0.00, 0.01, 0.00, 0.01, 0.00, 0.01, 0.00, 0.01]
core_1x3 = [
    0.45, 0.64, 0.68, 0.70, 0.72, 0.74, 0.72, 0.74, 0.72, 0.74,
    0.72, 0.72, 0.70, 0.50, 0.38, 0.31, 0.27, 0.26, 0.22, 0.17,
    0.12, 0.11, 0.12, 0.19, 0.22, 0.14, 0.13, 0.12, 0.12, 0.13,
    0.13, 0.12, 0.10, 0.09, 0.09, 0.09, 0.12, 0.09, 0.08, 0.08,
    0.10, 0.08, 0.08, 0.09, 0.09, 0.10, 0.10, 0.12, 0.14, 0.15,
    0.24, 0.34, 0.07, 0.07, 0.07, 0.07, 0.07, 0.07, 0.07, 0.07,
    0.07, 0.07, 0.07, 0.07, 0.07, 0.07, 0.07, 0.07, 0.07, 0.07,
    0.07, 0.08, 0.07, 0.07, 0.08, 0.08, 0.08, 0.07, 0.06, 0.06,
    0.05]

#----------------------------------------------------------
# Panel layout (2 columns x 3 rows), pixel positions on the page
#----------------------------------------------------------

panels = [
    (black_3x8, hi_3x8, lo_3x8, core_3x8),
    (black_2x8, hi_2x8, lo_2x8, core_2x8),
    (black_1x8, hi_1x8, lo_1x8, core_1x8),
    (black_3x3, hi_3x3, lo_3x3, core_3x3),
    (black_2x3, hi_2x3, lo_2x3, core_2x3),
    (black_1x3, hi_1x3, lo_1x3, core_1x3),
]

W, H = 1237, 880
col_px = [(97.7, 639.0), (673.0, 1214.0)]
row_px = [(17.0, 257.0), (296.0, 535.0), (575.0, 814.0)]


def px_x(p):
    return p / W


def px_y(p):
    return 1 - p / H


# matplotlib-like odd ticking on the right column
x_dtick = [10, 5, 10, 5, 10, 10]
y_dtick = [0.25, 0.2, 0.25, 0.2, 0.25, 0.25]

font_family = "Liberation Serif, Times New Roman, serif"
axis_color = "#333333"
red = "#ff0000"


def zigzag(hi, lo):
    # spikes: peak value at each grid frequency, trough half a step later
    x = np.empty(len(hi) + len(lo))
    y = np.empty(len(hi) + len(lo))
    x[0::2] = freq
    x[1::2] = freq[:-1] + step / 2
    y[0::2] = hi
    y[1::2] = lo
    return x, y


fig = go.Figure()
layout = {}
notes = []

for k, (black, hi, lo, core) in enumerate(panels):
    row, col = divmod(k, 2)
    n = "" if k == 0 else str(k + 1)
    xs, ys = zigzag(hi, lo)

    # solid red band
    fig.add_trace(go.Scatter(
        x=core_freq, y=core, mode="lines", fill="tozeroy",
        fillcolor=red, line=dict(width=0, color=red),
        showlegend=False, hoverinfo="skip",
        xaxis="x" + n, yaxis="y" + n,
    ))
    # spikes
    fig.add_trace(go.Scatter(
        x=xs, y=ys, mode="lines",
        line=dict(color=red, width=1.4),
        showlegend=False, xaxis="x" + n, yaxis="y" + n,
    ))
    # smoothed coherence
    fig.add_trace(go.Scatter(
        x=freq, y=black, mode="lines",
        line=dict(color="black", width=3),
        showlegend=False, xaxis="x" + n, yaxis="y" + n,
    ))
    # legend entry only (thin line like the original key)
    fig.add_trace(go.Scatter(
        x=[None], y=[None], mode="lines",
        line=dict(color="#ff4d4d", width=1),
        name=labels[k], legend="legend" + n,
        xaxis="x" + n, yaxis="y" + n,
    ))

    x0, x1 = col_px[col]
    y0, y1 = row_px[row]
    bottom = row == 2
    left = col == 0

    layout["xaxis" + n] = dict(
        domain=[px_x(x0), px_x(x1)], anchor="y" + n, range=[0, 40],
        dtick=x_dtick[k], tick0=0, showticklabels=bottom,
        ticks="outside", ticklen=5, tickwidth=1, tickcolor=axis_color,
        showline=True, linecolor=axis_color, linewidth=1, mirror=True,
        showgrid=False, zeroline=False, automargin=False,
    )
    layout["yaxis" + n] = dict(
        domain=[px_y(y1), px_y(y0)], anchor="x" + n, range=[0, 1],
        dtick=y_dtick[k], tick0=0, tickformat=".2f", showticklabels=left,
        ticks="outside", ticklen=5, tickwidth=1, tickcolor=axis_color,
        showline=True, linecolor=axis_color, linewidth=1, mirror=True,
        showgrid=False, zeroline=False, automargin=False,
    )
    layout["legend" + n] = dict(
        x=px_x(x1 - 14), xanchor="right",
        y=px_y(y0 + 13), yanchor="top",
        itemwidth=70,
        bgcolor="rgba(255,255,255,0.85)", bordercolor="#cccccc", borderwidth=1,
        font=dict(family=font_family, size=25.5, color="black"),
    )

    if left:
        notes.append(dict(
            text="Coherence [-]", textangle=-90, showarrow=False,
            xref="paper", yref="paper", x=px_x(23), y=px_y((y0 + y1) / 2),
            xanchor="center", yanchor="middle",
        ))
    if bottom:
        notes.append(dict(
            text="Frequency [kHz]", showarrow=False,
            xref="paper", yref="paper", x=px_x((x0 + x1) / 2), y=px_y(864),
            xanchor="center", yanchor="middle",
        ))

fig.update_layout(
    width=W, height=H,
    margin=dict(l=0, r=0, t=0, b=0),
    paper_bgcolor="white", plot_bgcolor="white",
    font=dict(family=font_family, size=25, color="black"),
    annotations=notes,
    **layout,
)

# drop the default page margin so the figure fills the window exactly
fig.write_html("out.html",
               config={"displayModeBar": False},
               post_script="document.body.style.margin = '0px';")
